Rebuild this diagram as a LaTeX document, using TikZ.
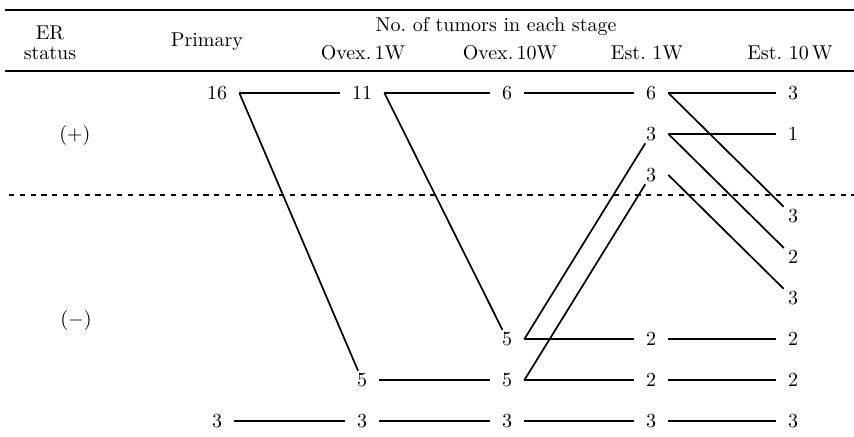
\documentclass[tikz,border=0pt]{standalone}
\usetikzlibrary{positioning}

\begin{document}
\begin{tikzpicture}[x=0.5pt, y=-0.5pt, every node/.style={font=\normalsize},
    num/.style={inner xsep=6pt, inner ysep=1pt},
    link/.style={line width=0.85pt}]
    \useasboundingbox (0,0) rectangle (854,436);
    % table rules and the ER border
    \draw[line width=1pt] (5,10) -- (854,10);
    \draw[line width=0.7pt] (5,71) -- (854,71);
    \draw[line width=0.6pt, dash pattern=on 2.6pt off 2.8pt] (9,195) -- (854,195);
    % header
    \node (er) at (50,33) {ER};
    \node (status) at (50,53) {status};
    \node (prim) at (207,42) {Primary};
    \node (stage) at (496,27) {No.\ of tumors in each stage};
    \foreach \i/\x/\t in {1/363/{Ovex.\,1W}, 2/510/{Ovex.\,10W}, 3/647/{Est.\ 1W}, 4/790/{Est.\ 10\,W}}{
      \node (h\i) at (\x,53) {\t};
    }
    \node (pos) at (75,135) {$(+)$};
    \node (neg) at (76,320) {$(-)$};
    % counts per stage
    \foreach \c/\x/\rows in {0/217/{0/16,8/3}, 1/362/{0/11,7/5,8/3},
        2/507/{0/6,6/5,7/5,8/3}, 3/651/{0/6,1/3,2/3,6/2,7/2,8/3},
        4/793/{0/3,1/1,3/3,4/2,5/3,6/2,7/2,8/3}}{
      \foreach \r/\v in \rows{
        \node[num] (n\c\r) at (\x,{93+41*\r}) {\v};
      }
    }
    % same row
    \foreach \a/\b in {00/10, 10/20, 20/30, 30/40, 31/41, 17/27, 26/36, 27/37,
        36/46, 37/47, 08/18, 18/28, 28/38, 38/48}{
      \draw[link] (n\a.east) -- (n\b.west);
    }
    % change of row
    \foreach \a/\b in {00/17, 10/26, 30/43, 31/44, 32/45, 26/31, 27/32}{
      \draw[link] (n\a.east) -- (n\b);
    }
\end{tikzpicture}
\end{document}
